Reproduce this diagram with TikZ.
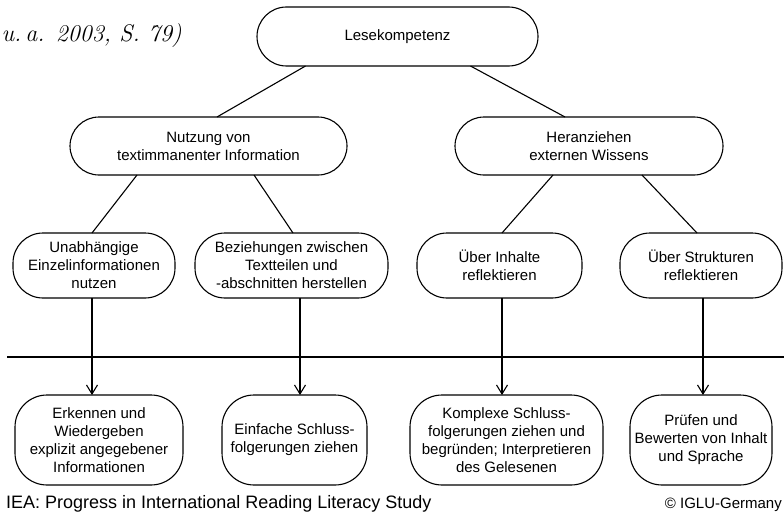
\documentclass[tikz,border=0pt]{standalone}
\usepackage{fontspec}
\newfontfamily\arial{Liberation Sans}
\usepackage{tikz}
\usetikzlibrary{arrows.meta}

\begin{document}
\begin{tikzpicture}[
          bx/.style={draw, line width=1.1pt, align=center, inner sep=1pt, outer sep=0pt,
            font=\arial\fontsize{15}{18}\selectfont},
          ed/.style={line width=1.1pt},
          ar/.style={line width=1.1pt, -{Straight Barb[length=9pt, width=11pt]}},
          x=1pt,
          y=-1pt,
        ]
      \clip (0,0) rectangle (784,519);
      \node[overlay, anchor=base east, inner sep=0pt, font=\fontsize{24}{28}\selectfont\itshape] (quelle) at (182,42) {u.\,a. 2003, S. 79)};
      % obere Ebenen
      \node[bx, minimum width=281pt, minimum height=59pt, rounded corners=29.5pt] (lese) at (397.5,36.5) {Lesekompetenz};
      \node[bx, minimum width=277pt, minimum height=58pt, rounded corners=29pt] (nutz) at (208.5,146) {Nutzung von\\textimmanenter Information};
      \node[bx, minimum width=268pt, minimum height=58pt, rounded corners=29pt] (heran) at (589,146) {Heranziehen\\externen Wissens};
      \node[bx, minimum width=162pt, minimum height=65pt, rounded corners=30pt] (einzel) at (94,265.5) {Unabhängige\\Einzelinformationen\\nutzen};
      \node[bx, minimum width=193pt, minimum height=65pt, rounded corners=30pt] (bezieh) at (291.5,265.5) {Beziehungen zwischen\\Textteilen und\\-abschnitten herstellen};
      \node[bx, minimum width=165pt, minimum height=65pt, rounded corners=30pt] (inhalt) at (499.5,265.5) {Über Inhalte\\reflektieren};
      \node[bx, minimum width=162pt, minimum height=65pt, rounded corners=30pt] (struk) at (701,265.5) {Über Strukturen\\reflektieren};
      % untere Ebene
      \node[bx, minimum width=168pt, minimum height=90pt, rounded corners=32pt] (erkenn) at (99,440) {Erkennen und\\Wiedergeben\\explizit angegebener\\Informationen};
      \node[bx, minimum width=145pt, minimum height=90pt, rounded corners=32pt] (einfach) at (294.5,440) {Einfache Schluss-\\folgerungen ziehen};
      \node[bx, minimum width=193pt, minimum height=90pt, rounded corners=32pt] (komplex) at (506.5,440) {Komplexe Schluss-\\folgerungen ziehen und\\begründen; Interpretieren\\des Gelesenen};
      \node[bx, minimum width=142pt, minimum height=90pt, rounded corners=32pt] (pruef) at (701,440) {Prüfen und\\Bewerten von Inhalt\\und Sprache};
      \draw[ed] ([xshift=-92pt]lese.south) -- ([xshift=8.5pt]nutz.north);
      \draw[ed] ([xshift=73pt]lese.south) -- ([xshift=-24pt]heran.north);
      \draw[ed] ([xshift=-71.5pt]nutz.south) -- ([xshift=-2pt]einzel.north);
      \draw[ed] ([xshift=45.5pt]nutz.south) -- ([xshift=1.5pt]bezieh.north);
      \draw[ed] ([xshift=-36pt]heran.south) -- ([xshift=2.5pt]inhalt.north);
      \draw[ed] ([xshift=53pt]heran.south) -- ([xshift=-4pt]struk.north);
      \coordinate (hl) at (7,357);
      \coordinate (hr) at (784,357);
      \draw[ed] (hl) -- (hr);
      \draw[ar] ([xshift=-2pt]einzel.south) -- ([xshift=-2pt]einzel.south |- erkenn.north);
      \draw[ar] ([xshift=8.5pt]bezieh.south) -- ([xshift=8.5pt]bezieh.south |- einfach.north);
      \draw[ar] ([xshift=2.5pt]inhalt.south) -- ([xshift=2.5pt]inhalt.south |- komplex.north);
      \draw[ar] ([xshift=2pt]struk.south) -- ([xshift=2pt]struk.south |- pruef.north);
      \node[anchor=base west, inner sep=0pt, font=\arial\fontsize{18}{21}\selectfont] (iea) at (6,508) {IEA: Progress in International Reading Literacy Study};
      \node[anchor=base east, inner sep=0pt, font=\arial\fontsize{15}{18}\selectfont] (iglu) at (782,508) {© IGLU-Germany};
    \end{tikzpicture}
\end{document}
